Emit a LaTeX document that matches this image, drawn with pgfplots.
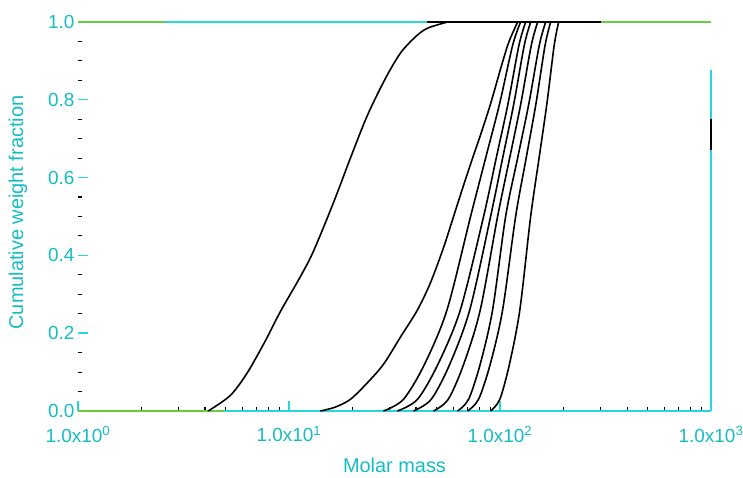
\documentclass[border=0pt]{standalone}
\usepackage{pgfplots}
\pgfplotsset{compat=1.18}
\usepackage{fontspec}
\setmainfont{Liberation Sans}
\definecolor{cy}{RGB}{40,215,222}
\definecolor{gr}{RGB}{100,205,60}
\definecolor{lab}{RGB}{20,188,195}
\begin{document}
\begin{tikzpicture}[x=1bp,y=1bp]
\useasboundingbox (0,0) rectangle (743,478);
\begin{axis}[
  at={(78bp,67bp)}, anchor=south west,
  width=633bp, height=389bp, scale only axis,
  xmode=log, xmin=1, xmax=1000, ymin=0, ymax=1,
  axis line style={draw=none},
  tick pos=left, tick align=inside,
  xtick={1,10,100,1000},
  xticklabels={1.0x10\textsuperscript{0},1.0x10\textsuperscript{1},1.0x10\textsuperscript{2},1.0x10\textsuperscript{3}},
  minor xtick={2,3,4,5,6,7,8,9,20,30,40,50,60,70,80,90,200,300,400,500,600,700,800,900},
  ytick={0,0.2,0.4,0.6,0.8,1},
  yticklabels={0.0,0.2,0.4,0.6,0.8,1.0},
  minor y tick num=3,
  major tick length=10bp, minor tick length=4bp,
  major tick style={draw=cy,line width=1.4bp},
  minor tick style={draw=black,line width=1.1bp},
  tick label style={font=\fontsize{19}{22}\selectfont, text=lab},
  xticklabel style={yshift=-12bp},
  xlabel={Molar mass}, ylabel={Cumulative weight fraction},
  every axis x label/.style={at={(axis description cs:0.5,0)},anchor=center,yshift=-54bp,font=\fontsize{20}{24}\selectfont,text=lab},
  every axis y label/.style={at={(axis description cs:0,0.51)},xshift=-60bp,rotate=90,anchor=center,font=\fontsize{20}{24}\selectfont,text=lab},
  clip=false,
]
% axis-like lines
\addplot[cy, line width=1.6bp] coordinates {(1,0)(1000,0)};
\addplot[gr, line width=1.6bp] coordinates {(1,0)(5,0)};
\addplot[cy, line width=1.6bp] coordinates {(1000,0)(1000,0.877)};
\addplot[black, line width=1.6bp] coordinates {(1000,0.67)(1000,0.75)};
\addplot[cy, line width=2.4bp] coordinates {(1,1)(1000,1)};
\addplot[gr, line width=2.4bp] coordinates {(1,1)(2.59,1)};
\addplot[gr, line width=2.4bp] coordinates {(300,1)(1000,1)};
\addplot[black, line width=1.6bp] coordinates {(45,1)(300,1)};
% cumulative curves
\addplot[black, line width=1.6bp, smooth, tension=0.5] coordinates {(4.14,0)(5.27,0.04)(6.34,0.098)(7.72,0.18)(9.09,0.255)(11.31,0.345)(13.04,0.41)(16.23,0.535)(19.54,0.65)(23.53,0.76)(28.65,0.855)(33.74,0.92)(39.76,0.962)(45.33,0.984)(56.4,1.0)};
\addplot[black, line width=1.6bp, smooth, tension=0.5] coordinates {(14.08,0)(16.58,0.01)(19.54,0.03)(23.28,0.07)(28.03,0.12)(33.74,0.19)(40.64,0.26)(46.84,0.33)(53.99,0.42)(60.23,0.50)(67.17,0.58)(74.13,0.65)(80.89,0.71)(90.24,0.79)(100.67,0.88)(108.67,0.94)(112.27,0.96)(121.2,1.0)};
\addplot[black, line width=1.6bp, smooth, tension=0.5] coordinates {(28.03,0)(34.87,0.03)(43.87,0.12)(56.09,0.26)(72.53,0.5)(85.45,0.65)(99.56,0.79)(114.77,0.94)(125.24,1.0)};
\addplot[black, line width=1.6bp, smooth, tension=0.5] coordinates {(32.66,0)(40.64,0.03)(50.79,0.12)(64.88,0.26)(83.60,0.5)(95.94,0.65)(109.14,0.79)(122.93,0.94)(132.28,1.0)};
\addplot[black, line width=1.6bp, smooth, tension=0.5] coordinates {(38.90,0)(47.21,0.03)(57.78,0.12)(71.89,0.26)(90.24,0.5)(102.90,0.65)(116.29,0.79)(130.29,0.94)(139.72,1.0)};
\addplot[black, line width=1.6bp, smooth, tension=0.5] coordinates {(48.41,0)(56.83,0.03)(67.25,0.12)(80.63,0.26)(97.41,0.5)(111.08,0.65)(125.50,0.79)(140.65,0.94)(150.83,1.0)};
\addplot[black, line width=1.6bp, smooth, tension=0.5] coordinates {(62.92,0)(70.96,0.03)(80.54,0.12)(92.24,0.26)(106.32,0.5)(121.18,0.65)(137.00,0.79)(153.50,0.94)(164.57,1.0)};
\addplot[black, line width=1.6bp, smooth, tension=0.5] coordinates {(70.18,0)(79.14,0.03)(89.85,0.12)(102.90,0.26)(118.58,0.5)(133.01,0.65)(148.05,0.79)(163.51,0.94)(173.85,1.0)};
\addplot[black, line width=1.6bp, smooth, tension=0.5] coordinates {(90.24,0)(99.79,0.03)(110.82,0.12)(124.17,0.26)(139.72,0.5)(153.15,0.65)(166.80,0.79)(180.63,0.94)(189.70,1.0)};
\end{axis}
\end{tikzpicture}
\end{document}
